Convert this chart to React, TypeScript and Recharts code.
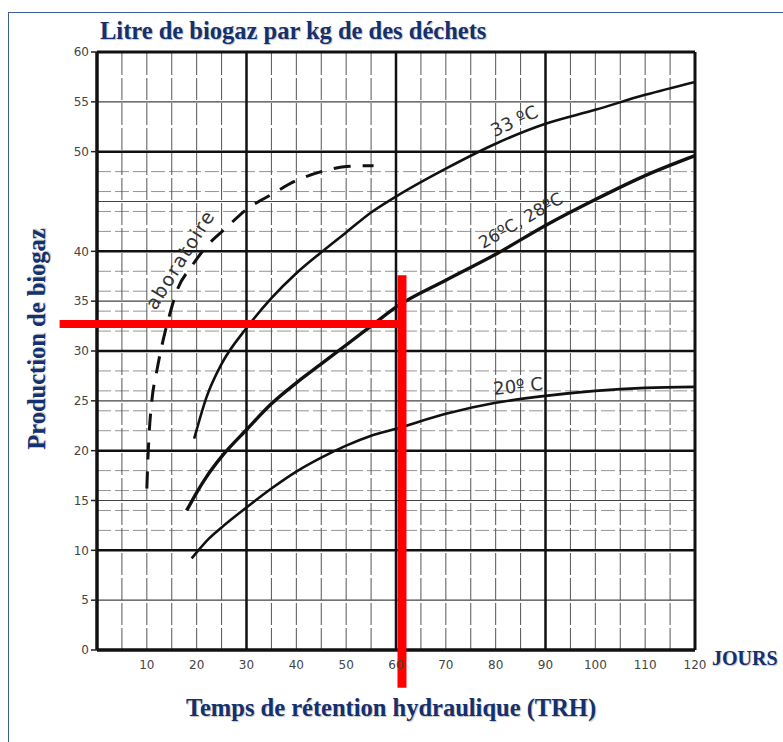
import React from 'react';
import { LineChart, Line, XAxis, YAxis, ReferenceLine, ReferenceDot } from 'recharts';

// Temps de rétention (jours) / production de biogaz (L par kg)
const days33 = [19.5, 22, 25, 30, 35, 40, 45, 50, 55, 60, 70, 80, 90, 100, 110, 120];
const gas33 = [21.2, 25.4, 28.7, 32.3, 35.3, 37.8, 39.9, 41.9, 43.9, 45.5, 48.3, 50.8, 52.8, 54.2, 55.7, 57];

const days26 = [18, 20, 22, 25, 30, 35, 40, 45, 50, 55, 60, 70, 80, 90, 100, 110, 120];
const gas26 = [14, 15.8, 17.4, 19.4, 22.1, 24.7, 26.8, 28.7, 30.6, 32.5, 34.4, 37.1, 39.7, 42.6, 45.2, 47.6, 49.6];

const days20 = [19, 20, 22.5, 25, 30, 35, 40, 45, 50, 55, 60, 70, 80, 90, 100, 110, 120];
const gas20 = [9.2, 9.8, 11.2, 12.3, 14.3, 16.2, 17.9, 19.3, 20.5, 21.5, 22.2, 23.7, 24.8, 25.5, 26, 26.3, 26.4];

const daysLabo = [10, 10.2, 10.5, 11, 12, 13, 14.5, 16, 19, 22, 26, 30, 35, 40, 45, 50, 55.5];
const gasLabo = [16.2, 19, 22, 25, 28, 30.5, 33.5, 36, 38.5, 40.5, 42.4, 44.2, 45.7, 47.1, 48, 48.5, 48.6];

const xTicks = [10, 20, 30, 40, 50, 60, 70, 80, 90, 100, 110, 120];
const yTicks = [0, 5, 10, 15, 20, 25, 30, 35, 40, 50, 55, 60];

// quadrillage du papier
const majorX = [30, 60, 90];
const minorX = [5, 10, 15, 20, 25, 35, 40, 45, 50, 55, 65, 70, 75, 80, 85, 95, 100, 105, 110, 115];
const majorY = [10, 20, 30, 40, 50];
const midY = [5, 15, 25, 35, 45, 55];
const fineY = [12, 14, 16, 18, 22, 24, 26, 28, 32, 34, 36, 38, 42, 44, 46, 48];

// lecture en rouge : TRH ~61 jours -> ~33 L/kg
const readDay = 61.2;
const readGas = 32.7;

const zip = (xs: number[], ys: number[]) => xs.map((x, i) => ({ x, y: ys[i] }));

const navy = '#14306e';
const titleFont = '"Liberation Serif", "Times New Roman", serif';
const tickFont = '"DejaVu Sans", sans-serif';
const blueText: React.CSSProperties = {
  position: 'absolute',
  fontFamily: titleFont,
  fontWeight: 'bold',
  color: navy,
  whiteSpace: 'nowrap',
  textShadow: '1px 1px 1px rgba(0,0,0,0.25)',
};

const CurveLabel = ({ cx, cy, text, angle, size, spacing = 0 }: any) => (
  <text
    x={cx}
    y={cy}
    textAnchor="middle"
    dominantBaseline="central"
    transform={`rotate(${angle} ${cx} ${cy})`}
    fontFamily={tickFont}
    fontSize={size}
    letterSpacing={spacing}
    fill="#333"
  >
    {text}
  </text>
);

export default function App() {
  return (
    <div style={{ position: 'absolute', left: 0, top: 0, width: 783, height: 742, background: '#fff', overflow: 'hidden' }}>
      {/* cadre bleu */}
      <div style={{ position: 'absolute', left: 8, top: 12, width: 800, height: 800, border: '1.5px solid #3d5c9c' }} />

      <LineChart width={783} height={742} margin={{ top: 52, right: 88, bottom: 62, left: 57 }}>
        <XAxis
          dataKey="x"
          type="number"
          domain={[0, 120]}
          ticks={xTicks}
          allowDataOverflow
          axisLine={false}
          tickLine={false}
          height={30}
          tickMargin={4}
          tick={{ fill: '#444', fontSize: 12, fontFamily: tickFont }}
        />
        <YAxis
          type="number"
          domain={[0, 60]}
          ticks={yTicks}
          allowDataOverflow
          axisLine={false}
          width={40}
          tickSize={6}
          tickMargin={2}
          tickLine={{ stroke: '#222', strokeWidth: 1.5 }}
          tick={{ fill: '#444', fontSize: 12, fontFamily: tickFont }}
        />

        {fineY.map((v) => (
          <ReferenceLine key={'f' + v} y={v} stroke="#888" strokeWidth={0.9} strokeDasharray="14 4" />
        ))}
        {midY.map((v) => (
          <ReferenceLine key={'m' + v} y={v} stroke="#444" strokeWidth={1.1} />
        ))}
        {minorX.map((v) => (
          <ReferenceLine key={'v' + v} x={v} stroke="#555" strokeWidth={1} strokeDasharray="22 3" />
        ))}
        {majorY.map((v) => (
          <ReferenceLine key={'M' + v} y={v} stroke="#111" strokeWidth={2.5} />
        ))}
        {majorX.map((v) => (
          <ReferenceLine key={'V' + v} x={v} stroke="#111" strokeWidth={2.5} />
        ))}
        <ReferenceLine y={0} stroke="#111" strokeWidth={3.5} />
        <ReferenceLine y={60} stroke="#111" strokeWidth={3} />
        <ReferenceLine x={0} stroke="#111" strokeWidth={3.5} />
        <ReferenceLine x={120} stroke="#111" strokeWidth={3} />

        <Line data={zip(days33, gas33)} dataKey="y" type="monotone" stroke="#111" strokeWidth={2.6} dot={false} activeDot={false} isAnimationActive={false} />
        <Line data={zip(days26, gas26)} dataKey="y" type="monotone" stroke="#111" strokeWidth={3.4} dot={false} activeDot={false} isAnimationActive={false} />
        <Line data={zip(days20, gas20)} dataKey="y" type="monotone" stroke="#111" strokeWidth={2.6} dot={false} activeDot={false} isAnimationActive={false} />
        <Line data={zip(daysLabo, gasLabo)} dataKey="y" type="monotone" stroke="#111" strokeWidth={3} strokeDasharray="17 12" dot={false} activeDot={false} isAnimationActive={false} />

        <ReferenceDot x={83.7} y={53.1} r={0} ifOverflow="visible" shape={(p: any) => <CurveLabel {...p} text="33 ºC" angle={-25} size={18} />} />
        <ReferenceDot x={85} y={43.1} r={0} ifOverflow="visible" shape={(p: any) => <CurveLabel {...p} text="26ºC, 28ºC" angle={-30} size={17} />} />
        <ReferenceDot x={84.5} y={26.5} r={0} ifOverflow="visible" shape={(p: any) => <CurveLabel {...p} text="20º C" angle={-6} size={18} />} />
        <ReferenceDot x={16.6} y={39.2} r={0} ifOverflow="visible" shape={(p: any) => <CurveLabel {...p} text="aboratoire" angle={-58} size={19} spacing={1.5} />} />

        <ReferenceLine
          segment={[{ x: -7.5, y: readGas }, { x: readDay + 0.8, y: readGas }]}
          ifOverflow="visible"
          stroke="#ff0000"
          strokeWidth={8}
        />
        <ReferenceLine
          segment={[{ x: readDay, y: 37.6 }, { x: readDay, y: -3.8 }]}
          ifOverflow="visible"
          stroke="#ff0000"
          strokeWidth={9}
        />
      </LineChart>

      <div style={{ ...blueText, left: 100, top: 17, fontSize: 24.5 }}>Litre de biogaz par kg de des déchets</div>
      <div style={{ ...blueText, left: 37, top: 339, transform: 'translate(-50%, -50%) rotate(-90deg)', fontSize: 24.5 }}>
        Production de biogaz
      </div>
      <div style={{ ...blueText, left: 391, top: 708, transform: 'translate(-50%, -50%)', fontSize: 24.5 }}>
        Temps de rétention hydraulique (TRH)
      </div>
      <div style={{ ...blueText, left: 712, top: 647, fontSize: 20 }}>JOURS</div>
    </div>
  );
}
